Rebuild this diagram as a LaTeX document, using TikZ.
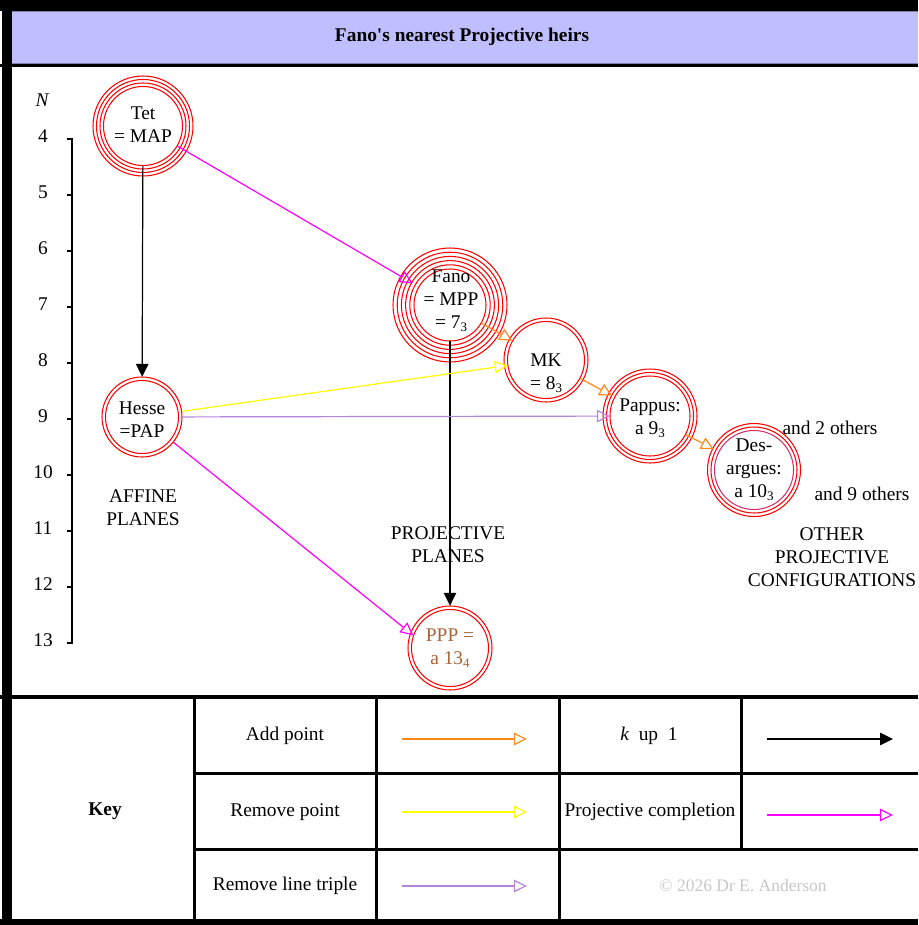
\documentclass[tikz,border=0pt]{standalone}
\usepackage{fontspec}
\setmainfont{Liberation Serif}
\usetikzlibrary{arrows.meta}
\definecolor{lav}{HTML}{BFBFFF}
\definecolor{lavline}{HTML}{7F7FA8}
\definecolor{mag}{HTML}{FF00FF}
\definecolor{org}{HTML}{FF8A1A}
\definecolor{yel}{HTML}{FFFF00}
\definecolor{pur}{HTML}{B585DE}
\definecolor{sien}{HTML}{A8643A}
\definecolor{cpy}{HTML}{C8C8C8}
\definecolor{ringin}{HTML}{D0306A}
\newcommand{\lsub}[1]{\raisebox{-0.38ex}{\fontsize{13}{13}\selectfont #1}}
\begin{document}
\begin{tikzpicture}[x=1pt,y=-1pt,
  font=\fontsize{19.4}{23}\selectfont,
  ring/.style={draw=red, line width=1.05pt},
  hub/.style={circle, inner sep=0pt, minimum size=#1},
  txt/.style={align=center, inner sep=0pt},
  conn/.style={line width=1.2pt},
  openhead/.style={-{Triangle[open,length=13pt,width=12.5pt]}},
  fillhead/.style={-{Triangle[length=13pt,width=12.5pt]}},
  rule/.style={line width=3pt, black},
  axisline/.style={line width=1.5pt, black}
]
\useasboundingbox (0,0) rectangle (918,925);
% frame
\fill[white] (0,0) rectangle (918,925);
\fill[black] (0,0) rectangle (918,11);
\fill[lav] (12,11) rectangle (918,64);
\draw[lavline, line width=1.2pt] (12,11.6) -- (918,11.6);
\draw[lavline, line width=1.2pt] (12,63.4) -- (918,63.4);
\fill[black] (0,64) rectangle (918,67.5);
\fill[black] (2,0) rectangle (12,925);
\fill[black] (0,695) rectangle (918,699);
\fill[black] (0,919) rectangle (918,925);
% key grid
\draw[rule] (194,699) -- (194,919);
\draw[rule] (376,699) -- (376,919);
\draw[rule] (559,699) -- (559,919);
\draw[rule] (741,699) -- (741,849);
\draw[rule] (194,773) -- (918,773);
\draw[rule] (194,849) -- (918,849);
% title
\node[txt, font=\fontsize{19.4}{23}\selectfont\bfseries] (title) at (462,37) {Fano\textquotesingle s nearest Projective heirs};
% axis
\node[txt, font=\fontsize{19.4}{23}\selectfont\itshape] (nlab) at (42,100) {N};
\foreach \n [count=\i from 0] in {4,...,13} {
  \node[txt] (ax\n) at (43,136+56*\i) {\n};
  \draw[axisline] (67,139+56*\i) -- (72.75,139+56*\i);
}
\draw[axisline] (72,139) -- (72,643);
% circle nodes
\node[hub=80pt] (tet) at (143,126) {};
\foreach \r in {50,46.5,43,39.5} \draw[ring] (tet.center) circle (\r pt);
\node[hub=72pt] (fano) at (450,305) {};
\foreach \r in {57,52.8,48.6,44.4,40.2,36} \draw[ring] (fano.center) circle (\r pt);
\node[hub=77pt] (mk) at (546,360) {};
\foreach \r in {42,38.5} \draw[ring] (mk.center) circle (\r pt);
\node[hub=80pt] (hesse) at (142,417) {};
\foreach \r in {40,36.5} \draw[ring] (hesse.center) circle (\r pt);
\node[hub=80pt] (pappus) at (650,416) {};
\foreach \r in {47,43.5,40} \draw[ring] (pappus.center) circle (\r pt);
\node[hub=79pt] (desargues) at (754,470) {};
\foreach \r in {46.5,43} \draw[ring] (desargues.center) circle (\r pt);
\draw[ring, draw=ringin] (desargues.center) circle (39.5pt);
\node[hub=77pt] (ppp) at (450,648) {};
\foreach \r in {42,38.5} \draw[ring] (ppp.center) circle (\r pt);
% node texts
\node[txt] (tettxt) at (143,125) {Tet\\= MAP};
\node[txt] (fanotxt) at (451,301) {Fano\\= MPP\\= 7\lsub{3}};
\node[txt] (mktxt) at (546,373) {MK\\= 8\lsub{3}};
\node[txt] (hessetxt) at (142,420) {Hesse\\=PAP};
\node[txt] (pappustxt) at (650,418) {Pappus:\\a 9\lsub{3}};
\node[txt] (desarguestxt) at (754,470) {Des-\\argues:\\a 10\lsub{3}};
\node[txt, text=sien] (ppptxt) at (450,648) {PPP =\\a 13\lsub{4}};
% labels
\node[txt] (affine) at (143,508) {AFFINE\\PLANES};
\node[txt] (projpl) at (448,545) {PROJECTIVE\\PLANES};
\node[txt] (otherpc) at (832,557) {OTHER\\PROJECTIVE\\CONFIGURATIONS};
\node[txt] (and2) at (830,428) {and 2 others};
\node[txt] (and9) at (862,494) {and 9 others};
% connectors
\draw[conn, fillhead] (tet) -- (hesse);
\draw[conn, mag, openhead, shorten >=7pt] (tet) -- (fano);
\draw[conn, fillhead, shorten >=3.5pt] (fano) -- (ppp);
\draw[conn, org, openhead] (fano) -- (mk);
\draw[conn, org, openhead, shorten >=2.5pt] (mk) -- (pappus);
\draw[conn, org, openhead, shorten >=5.5pt] (pappus) -- (desargues);
\draw[conn, yel, openhead] (hesse) -- (mk);
\draw[conn, pur, openhead] (hesse) -- (pappus);
\draw[conn, mag, openhead] (hesse) -- (ppp.161);
% key
\node[txt, font=\fontsize{19.4}{23}\selectfont\bfseries] (keylab) at (105,811) {Key};
\node[txt] (kadd) at (285,736) {Add point};
\node[txt] (krem) at (285,812) {Remove point};
\node[txt] (kline) at (285,886) {Remove line triple};
\node[txt] (kup) at (649,736) {{\itshape k}\ \ up\ \ 1};
\node[txt] (kproj) at (650,812) {Projective completion};
\node[txt, text=cpy, font=\fontsize{17.5}{21}\selectfont] (copy) at (743,886) {\textcopyright\ 2026\ Dr\ E.\ Anderson};
\coordinate (ka1) at (402,739); \coordinate (kb1) at (527,739);
\coordinate (ka2) at (402,812); \coordinate (kb2) at (527,812);
\coordinate (ka3) at (402,886); \coordinate (kb3) at (527,886);
\coordinate (ka4) at (767,739); \coordinate (kb4) at (893,739);
\coordinate (ka5) at (767,815); \coordinate (kb5) at (893,815);
\draw[conn, org, openhead] (ka1) -- (kb1);
\draw[conn, yel, openhead] (ka2) -- (kb2);
\draw[conn, pur, openhead] (ka3) -- (kb3);
\draw[conn, fillhead] (ka4) -- (kb4);
\draw[conn, mag, openhead] (ka5) -- (kb5);
\end{tikzpicture}
\end{document}
